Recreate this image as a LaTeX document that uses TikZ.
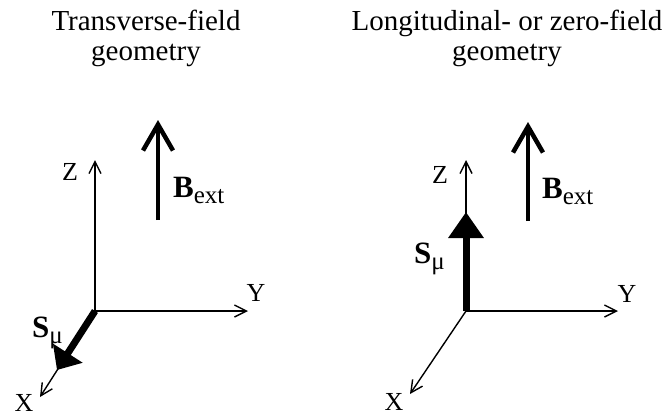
\documentclass[tikz,border=0pt]{standalone}
\usepackage{fontspec}
\setmainfont{Liberation Serif}
\usetikzlibrary{arrows.meta}
\begin{document}
\begin{tikzpicture}[x=1pt,y=-1pt,
  axis/.style={line width=1.4pt,-{Straight Barb[length=12pt,width=12pt]}},
  bfield/.style={line width=4.5pt,-{Straight Barb[length=26pt,width=30pt]}},
  spin/.style={line width=7pt,-{Triangle[length=#1,width=34pt]}},
  spin/.default=24pt,
  axlabel/.style={font=\fontsize{26}{26}\selectfont, inner sep=0pt},
  title/.style={font=\fontsize{29}{30}\selectfont, align=center, inner sep=0pt, anchor=base},
  vlabel/.style={font=\fontsize{31}{31}\selectfont\bfseries, inner sep=0pt, anchor=base west}]
\useasboundingbox (0,0) rectangle (668,416);
% titles
\node[title] (t1) at (146,60) {Transverse-field\\geometry};
\node[title] (t2) at (507,60) {Longitudinal- or zero-field\\geometry};
% left diagram
\coordinate (O1) at (95,311);
\coordinate (Z1) at (95,160);
\coordinate (Y1) at (248,311);
\coordinate (X1) at (40,397);
\coordinate (S1) at (57,370);
\coordinate (B1b) at (158,220);
\coordinate (B1t) at (158,120);
\draw[axis] (O1) -- (Z1);
\draw[axis] (O1) -- (Y1);
\draw[axis] (O1) -- (X1);
\draw[spin=20pt] (O1) -- (S1);
\draw[bfield] (B1b) -- (B1t);
\node[axlabel] (lz1) at (70,172) {Z};
\node[axlabel] (ly1) at (256,293) {Y};
\node[axlabel] (lx1) at (24,403) {X};
\node[vlabel] (lb1) at (173,197) {B\raisebox{-6pt}{\normalfont\fontsize{25}{25}\selectfont ext}};
\node[vlabel] (ls1) at (32,337) {S\raisebox{-6pt}{\normalfont\fontsize{25}{25}\selectfont μ}};
% right diagram
\coordinate (O2) at (466,311);
\coordinate (Z2) at (466,160);
\coordinate (Y2) at (618,311);
\coordinate (X2) at (410,394);
\coordinate (S2) at (466,212);
\coordinate (B2b) at (528,221);
\coordinate (B2t) at (528,122);
\draw[axis] (O2) -- (Z2);
\draw[axis] (O2) -- (Y2);
\draw[axis] (O2) -- (X2);
\draw[spin=26pt] (O2) -- (S2);
\draw[bfield] (B2b) -- (B2t);
\node[axlabel] (lz2) at (440,175) {Z};
\node[axlabel] (ly2) at (627,294) {Y};
\node[axlabel] (lx2) at (394,402) {X};
\node[vlabel] (lb2) at (542,198) {B\raisebox{-6pt}{\normalfont\fontsize{25}{25}\selectfont ext}};
\node[vlabel] (ls2) at (414,263) {S\raisebox{-6pt}{\normalfont\fontsize{25}{25}\selectfont μ}};
\end{tikzpicture}
\end{document}
